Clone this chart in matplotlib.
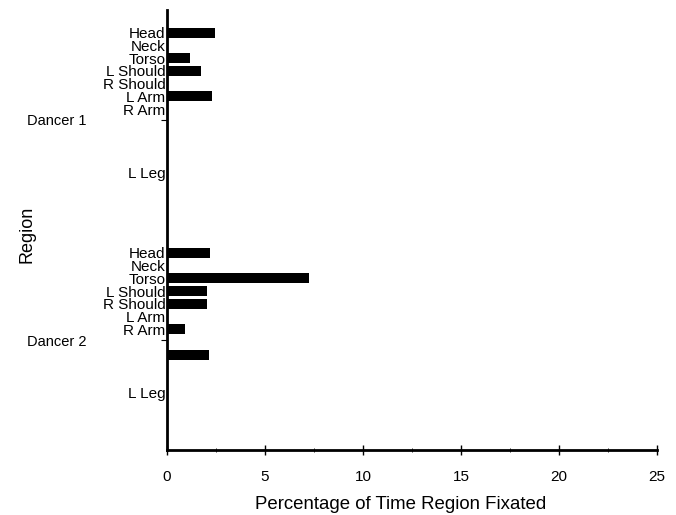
import numpy as np
import matplotlib.pyplot as plt
from matplotlib.ticker import MultipleLocator

plt.rcParams['font.family'] = ['Liberation Sans', 'DejaVu Sans']

# Regions per dancer (blank names = regions whose labels are not shown)
regions = ["Head", "Neck", "Torso", "L Should", "R Should", "L Arm", "R Arm",
           "", "", "", "", "L Leg"]
dancers = ["Dancer 1", "Dancer 2"]
dancer1 = [2.45, 0, 1.2, 1.73, 0, 2.28, 0, 0, 0, 0, 0, 0]
dancer2 = [2.19, 0, 7.26, 2.06, 2.02, 0, 0.92, 0, 2.14, 0, 0, 0]
values = [dancer1, dancer2]

group_step = 17.3   # rows per dancer block
top_pad = 1.8       # empty rows above first region

fig = plt.figure(figsize=(6.76, 5.15), dpi=100)
ax = fig.add_axes([0.247, 0.126, 0.725, 0.855])

ypos = []
ylabels = []
for g, vals in enumerate(values):
    y = g * group_step + np.arange(len(regions))
    ax.barh(y, vals, height=0.8, color='black')
    ypos.extend(y)
    ylabels.extend(regions)

ax.set_xlim(0, 25)
ax.set_ylim(2 * group_step - top_pad, -top_pad)
ax.set_yticks(ypos)
ax.set_yticklabels(ylabels, fontsize=11)
ax.tick_params(axis='y', length=0, pad=1)

ax.xaxis.set_major_locator(MultipleLocator(5))
ax.xaxis.set_minor_locator(MultipleLocator(2.5))
ax.tick_params(axis='x', which='major', direction='inout', length=7, width=1,
               labelsize=11, pad=11)
ax.tick_params(axis='x', which='minor', direction='inout', length=3, width=0.6)

for s in ['top', 'right']:
    ax.spines[s].set_visible(False)
for s in ['left', 'bottom']:
    ax.spines[s].set_linewidth(2)

# dancer group labels on a second left axis
sec = ax.secondary_yaxis('left')
centers = [g * group_step + (group_step / 2 - top_pad) for g in range(len(dancers))]
sec.set_yticks(centers)
sec.set_yticklabels(dancers, fontsize=10.5, ha='left')
sec.tick_params(axis='y', length=4, width=0.8, pad=97)
sec.spines['left'].set_visible(False)

fig.text(0.592, 0.02, "Percentage of Time Region Fixated", fontsize=13.4,
         ha='center', va='center')
fig.text(0.04, 0.545, "Region", rotation=90, fontsize=13, ha='center', va='center')

fig.savefig("out.png", dpi=100)
